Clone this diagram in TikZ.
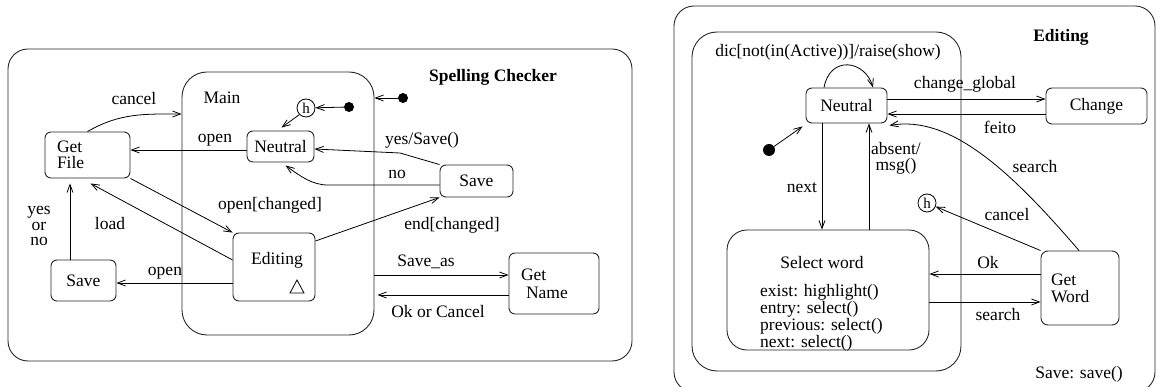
\documentclass[tikz,border=0pt]{standalone}
\usepackage{fontspec}
\setmainfont{Liberation Serif}
\usetikzlibrary{arrows.meta}
\begin{document}
\begin{tikzpicture}[x=1pt,y=-1pt,
  every node/.style={font=\fontsize{17.5}{17}\selectfont},
  >={Straight Barb[length=8pt,width=6pt]},
  conn/.style={->,line width=0.8pt},
  plain/.style={line width=0.8pt},
  stbox/.style={draw=black!85,line width=0.9pt,rounded corners=6pt,inner sep=0pt},
  cont/.style={draw=black!85,line width=0.9pt,inner sep=0pt},
  lbl/.style={inner sep=0pt},
  hist/.style={draw,circle,line width=0.8pt,inner sep=0pt,minimum size=18pt,font=\fontsize{15}{15}\selectfont},
  initdot/.style={fill,circle,inner sep=0pt,minimum size=11pt}]
\useasboundingbox (0,0) rectangle (1156,387);

% ================= left diagram =================
\node[cont,rounded corners=20pt,minimum width=624pt,minimum height=312pt] (outerL) at (320,205) {};
\node[cont,rounded corners=25pt,minimum width=192pt,minimum height=263pt] (main) at (278,203.5) {};
\node[lbl] (mainlbl) at (222,98) {Main};
\node[lbl,font=\fontsize{17.5}{17}\selectfont\bfseries] (spell) at (493,77) {Spelling Checker};

\node[hist] (h1) at (306,108) {h};
\node[initdot,minimum size=10pt] (dot1) at (349,107) {};
\node[initdot,minimum size=10pt] (dot2) at (403,98) {};

\node[stbox,minimum width=67pt,minimum height=31pt] (neutral1) at (280.5,146.5) {Neutral};
\node[stbox,minimum width=85pt,minimum height=46pt,text width=61pt,align=left,
      font=\fontsize{17.5}{16.5}\selectfont] (getfile) at (87.5,155) {Get\\File};
\node[stbox,minimum width=73pt,minimum height=32pt] (save1) at (476.5,181) {Save};
\node[stbox,minimum width=82pt,minimum height=68pt] (editing) at (274,267) {};
\node[lbl] (edtext) at (277,260) {Editing};
\draw[line width=0.8pt] (290,293) -- (304,293) -- (297,280) -- cycle;
\node[stbox,minimum width=65pt,minimum height=41pt] (save2) at (83.5,280.5) {Save};
\node[stbox,minimum width=90pt,minimum height=61pt,text width=66pt,align=left,
      font=\fontsize{17.5}{18}\selectfont] (getname) at (554,283.5) {Get\\\hspace*{5pt}Name};

% connectors left
\draw[conn] (dot1) -- (h1);
\draw[conn] (dot2) -- (main.east |- dot2);
\draw[conn] (h1.south west) -- ([xshift=1pt,yshift=3pt]neutral1.north);
\draw[conn] (neutral1.west |- 0,150) -- (getfile.east |- 0,150);
\draw[conn] (getfile.north) to[out=30,in=180] (main.west |- 0,114);
\draw[conn] (save1.north west) -- (400,153) -- (neutral1.east |- 0,149);
\draw[conn] (save1.west |- 0,185) -- (328,185) .. controls (312,185) and (300,176) .. ([xshift=5pt,yshift=-3pt]neutral1.south);
\draw[conn] (getfile.south east) -- (editing.north west);
\draw[conn] (editing.west |- 0,260) -- ([xshift=3pt,yshift=-5pt]getfile.south);
\draw[conn] (save2.north -| 70,0) -- ([yshift=-5pt]getfile.south -| 70,0);
\draw[conn] (editing.west |- 0,283) -- (save2.east |- 0,283);
\draw[conn] (editing.east |- 0,241) -- (save1.south west);
\draw[conn] (main.east |- 0,275) -- (getname.west |- 0,275);
\draw[conn] (getname.west |- 0,295) -- ([xshift=3pt]main.east |- 0,295);

% labels left
\node[lbl] (lcancel) at (134,99) {cancel};
\node[lbl] (lopen1) at (215,140) {open};
\node[lbl] (lyessave) at (422,140) {yes/Save()};
\node[lbl] (lno) at (397,174) {no};
\node[lbl] (lopench) at (270,205) {open[changed]};
\node[lbl] (lload) at (110,224) {load};
\node[lbl,align=center,font=\fontsize{17.5}{15.5}\selectfont] (lyesorno) at (39,226) {yes\\or\\no};
\node[lbl] (lopen2) at (165,273) {open};
\node[lbl] (lendch) at (452,225) {end[changed]};
\node[lbl] (lsaveas) at (426,262) {Save\_as};
\node[lbl] (lokcancel) at (438,312) {Ok or Cancel};

% ================= right diagram =================
\node[cont,rounded corners=20pt,minimum width=481pt,minimum height=386pt] (outerR) at (914.5,199) {};
\node[cont,rounded corners=25pt,minimum width=269pt,minimum height=339pt] (inner) at (826.5,201.5) {};
\node[lbl,font=\fontsize{17.5}{17}\selectfont\bfseries] (editlbl) at (1061,37) {Editing};
\node[lbl] (dic) at (828,52) {dic[not(in(Active))]/raise(show)};
\node[lbl] (savesave) at (1079,374) {Save: save()};

\node[stbox,minimum width=81pt,minimum height=35pt] (neutral2) at (846.5,105.5) {Neutral};
\node[stbox,minimum width=101pt,minimum height=36pt] (change) at (1096.5,106) {Change};
\node[initdot,minimum size=12pt] (dot3) at (769,150) {};
\node[stbox,rounded corners=20pt,minimum width=202pt,minimum height=120pt] (selword) at (828,290) {};
\node[lbl] (seltitle) at (822,263) {Select word};
\node[lbl,anchor=west,align=left,font=\fontsize{17.5}{13.5}\selectfont] (selacts) at (760,318)
  {exist: highlight()\\entry: select()\\previous: select()\\next: select()};
\node[hist] (h2) at (927,203) {h};
\node[stbox,rounded corners=7pt,minimum width=78pt,minimum height=74pt,text width=58pt,align=left,
      font=\fontsize{17.5}{17}\selectfont] (getword) at (1080,288) {Get\\Word};

% connectors right
\draw[conn] (neutral2.north -| 824,0) .. controls (830,55) and (865,60) .. (neutral2.north -| 873,0);
\draw[conn] (dot3) -- ([xshift=-3pt,yshift=-3pt]neutral2.south west);
\draw[conn] (neutral2.east |- 0,99) -- (change.west |- 0,99);
\draw[conn] (change.west |- 0,114) -- (neutral2.east |- 0,114);
\draw[conn] (getword.north -| 1079,0) .. controls (1010,170) and (950,115) .. ([xshift=2pt,yshift=-2pt]neutral2.south east);
\draw[conn] (selword.north -| 869,0) -- (neutral2.south -| 869,0);
\draw[conn] (neutral2.south -| 822,0) -- (selword.north -| 822,0);
\draw[conn] (getword.north west) -- (h2);
\draw[conn] (getword.west |- 0,274) -- (selword.east |- 0,274);
\draw[conn] (selword.east |- 0,302) -- (getword.west |- 0,302);

% labels right
\node[lbl] (lchg) at (965,84) {change\_global};
\node[lbl] (lfeito) at (1000,127) {feito};
\node[lbl] (lsearch1) at (1035,167) {search};
\node[lbl,align=center,font=\fontsize{17.5}{16}\selectfont] (labsent) at (896,158) {absent/\\msg()};
\node[lbl] (lnext) at (802,188) {next};
\node[lbl] (lcancel2) at (1007,215) {cancel};
\node[lbl] (lok) at (988,263) {Ok};
\node[lbl] (lsearch2) at (998,315) {search};
\end{tikzpicture}
\end{document}
